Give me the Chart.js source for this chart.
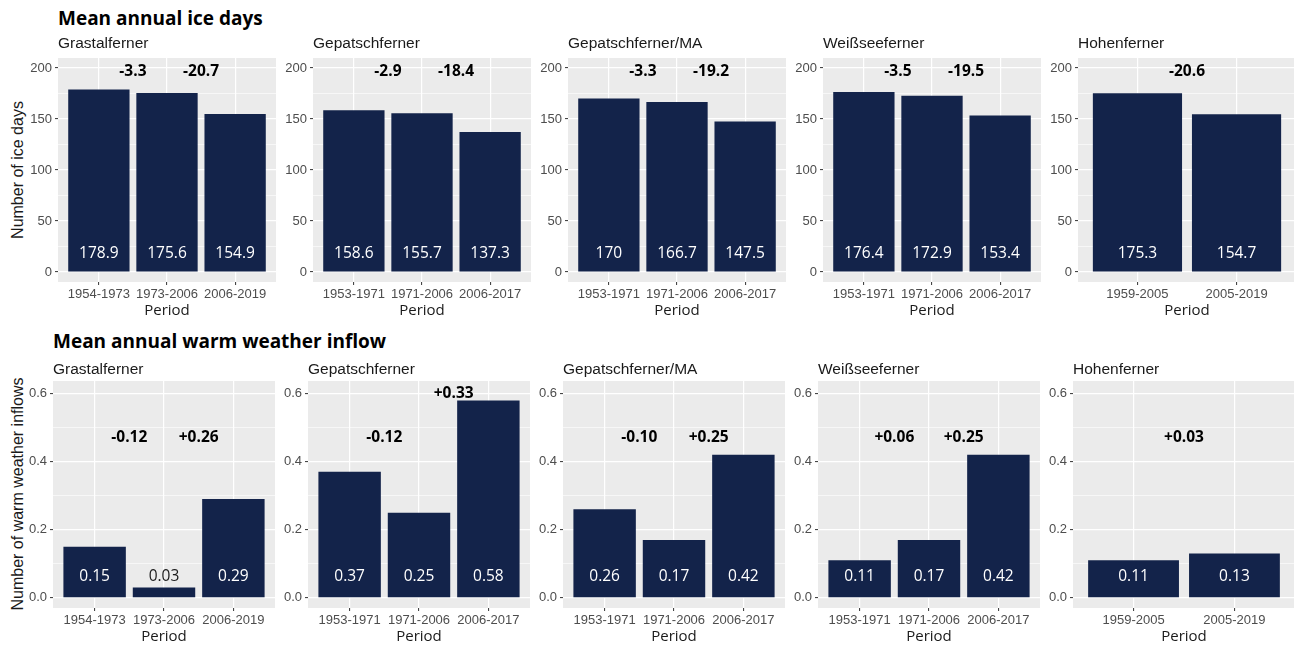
<!DOCTYPE html>
<html>
<head>
<meta charset="utf-8">
<script src="https://cdn.jsdelivr.net/npm/chart.js@4/dist/chart.umd.min.js"></script>
<style>
    body { margin: 0; background: #fff; }
    #page { position: relative; width: 1294px; height: 647px; overflow: hidden; background: #fff; }
    canvas { position: absolute; }
    .main-title { position: absolute; font: bold 19px "Open Sans"; line-height: 20px; color: #000; white-space: nowrap; }
    .panel-title { position: absolute; font: 15.5px "Liberation Sans"; line-height: 18px; color: #1a1a1a; white-space: nowrap; }
    .y-title { position: absolute; font: 16px "Liberation Sans"; line-height: 18px; color: #1a1a1a; white-space: nowrap;
               transform: translate(-50%, -50%) rotate(-90deg); }
</style>
</head>
<body>
<div id="page"></div>
<script>
// Glaciers (one panel per glacier, same order in both rows)
const glaciers = ['Grastalferner', 'Gepatschferner', 'Gepatschferner/MA', 'Weißseeferner', 'Hohenferner'];

// Periods on the x axis of each panel
const periods = [
    ['1954-1973', '1973-2006', '2006-2019'],
    ['1953-1971', '1971-2006', '2006-2017'],
    ['1953-1971', '1971-2006', '2006-2017'],
    ['1953-1971', '1971-2006', '2006-2017'],
    ['1959-2005', '2005-2019']
];

// Mean annual ice days
const iceDays = [
    [178.9, 175.6, 154.9],
    [158.6, 155.7, 137.3],
    [170, 166.7, 147.5],
    [176.4, 172.9, 153.4],
    [175.3, 154.7]
];
const iceChanges = [['-3.3', '-20.7'], ['-2.9', '-18.4'], ['-3.3', '-19.2'], ['-3.5', '-19.5'], ['-20.6']];

// Mean annual warm weather inflow
const warmInflows = [
    [0.15, 0.03, 0.29],
    [0.37, 0.25, 0.58],
    [0.26, 0.17, 0.42],
    [0.11, 0.17, 0.42],
    [0.11, 0.13]
];
const warmChanges = [['-0.12', '+0.26'], ['-0.12', '+0.33'], ['-0.10', '+0.25'], ['+0.06', '+0.25'], ['+0.03']];

// Major y ticks
const iceTicks = [0, 50, 100, 150, 200];
const warmTicks = [0, 0.2, 0.4, 0.6];

const BAR_COLOR = '#13234A';
const PANEL_BG = '#EBEBEB';
const AXIS_W = 50;    // room left of the plot for tick labels
const PAD_TOP = 12;
const X_AXIS_H = 38;  // tick labels + "Period"

const rows = [
    {
        title: 'Mean annual ice days', yTitle: 'Number of ice days',
        values: iceDays, changes: iceChanges, ticks: iceTicks,
        format: v => String(v),
        yMin: -9.8, yMax: 209.8,
        top: 58, height: 224, width: 218, lefts: [58, 313, 568, 823, 1078],
        labelAt: 18, changeAt: 196, changePad: 10,
        titleTop: 7.6, panelTitleTop: 34, yTitleCenter: 170
    },
    {
        title: 'Mean annual warm weather inflow', yTitle: 'Number of warm weather inflows',
        values: warmInflows, changes: warmChanges, ticks: warmTicks,
        format: v => v.toFixed(1),
        yMin: -0.03, yMax: 0.637,
        top: 381, height: 227, width: 222, lefts: [53, 308, 563, 818, 1073],
        labelAt: 0.062, changeAt: 0.47, changePad: 0.02,
        titleTop: 331, panelTitleTop: 360, yTitleCenter: 494
    }
];

// grey panel background + value labels + change labels
const panelDecor = {
    id: 'panelDecor',
    beforeDraw(chart) {
        const a = chart.chartArea;
        const ctx = chart.ctx;
        ctx.save();
        ctx.fillStyle = PANEL_BG;
        ctx.fillRect(a.left, a.top, a.right - a.left, a.bottom - a.top);
        ctx.restore();
    },
    afterDatasetsDraw(chart, args, opts) {
        const ctx = chart.ctx;
        const xs = chart.scales.x;
        const ys = chart.scales.y;
        const vals = opts.values;
        ctx.save();
        ctx.textAlign = 'center';
        ctx.textBaseline = 'middle';

        // values inside the bars
        ctx.font = '15.5px "Open Sans"';
        const labelY = ys.getPixelForValue(opts.labelAt);
        vals.forEach((v, i) => {
            const barTop = ys.getPixelForValue(v);
            ctx.fillStyle = barTop < labelY - 9 ? '#ffffff' : '#1a1a1a';
            ctx.fillText(String(v), xs.getPixelForValue(i + 1), labelY);
        });

        // change between consecutive periods
        ctx.font = 'bold 15.5px "Open Sans"';
        ctx.fillStyle = '#000';
        opts.changes.forEach((txt, i) => {
            const yv = Math.max(opts.changeAt, Math.max(vals[i], vals[i + 1]) + opts.changePad);
            ctx.fillText(txt, xs.getPixelForValue(i + 1.5), ys.getPixelForValue(yv));
        });
        ctx.restore();
    }
};

function addText(cls, text, left, top) {
    const d = document.createElement('div');
    d.className = cls;
    d.textContent = text;
    d.style.left = left + 'px';
    d.style.top = top + 'px';
    document.getElementById('page').appendChild(d);
}

function makePanel(row, g) {
    const labels = periods[g];
    const vals = row.values[g];
    const n = labels.length;

    // major ticks with a minor one halfway between each pair
    const allTicks = [];
    row.ticks.forEach((t, i) => {
        allTicks.push(t);
        if (i < row.ticks.length - 1) allTicks.push((t + row.ticks[i + 1]) / 2);
    });

    const canvas = document.createElement('canvas');
    const plotLeft = row.lefts[g];
    canvas.width = AXIS_W + row.width;
    canvas.height = PAD_TOP + row.height + X_AXIS_H;
    canvas.style.left = (plotLeft - AXIS_W) + 'px';
    canvas.style.top = (row.top - PAD_TOP) + 'px';
    document.getElementById('page').appendChild(canvas);

    addText('panel-title', glaciers[g], plotLeft, row.panelTitleTop);

    new Chart(canvas.getContext('2d'), {
        type: 'bar',
        data: {
            datasets: [{
                data: vals.map((v, i) => ({ x: i + 1, y: v })),
                backgroundColor: BAR_COLOR,
                borderWidth: 0,
                barPercentage: 0.9,
                categoryPercentage: 1
            }]
        },
        options: {
            responsive: false,
            animation: false,
            layout: { padding: { top: PAD_TOP, left: 0, right: 0, bottom: 0 } },
            plugins: {
                legend: { display: false },
                tooltip: { enabled: false },
                panelDecor: { values: vals, changes: row.changes[g], labelAt: row.labelAt, changeAt: row.changeAt, changePad: row.changePad }
            },
            scales: {
                x: {
                    type: 'linear',
                    min: 0.4,
                    max: n + 0.6,
                    offset: false,
                    afterBuildTicks: s => { s.ticks = labels.map((_, i) => ({ value: i + 1 })); },
                    afterFit: s => { s.height = X_AXIS_H; },
                    ticks: {
                        callback: v => labels[Math.round(v) - 1],
                        color: '#4D4D4D',
                        font: { family: 'Liberation Sans', size: 13 },
                        padding: 2,
                        maxRotation: 0,
                        autoSkip: false
                    },
                    grid: { color: '#ffffff', lineWidth: 1.2, tickLength: 3, tickColor: '#333333', tickWidth: 1, offset: false },
                    border: { display: false },
                    title: {
                        display: true,
                        text: 'Period',
                        color: '#1a1a1a',
                        font: { family: 'Open Sans', size: 15 },
                        padding: { top: 0, bottom: 0 }
                    }
                },
                y: {
                    min: row.yMin,
                    max: row.yMax,
                    afterBuildTicks: s => { s.ticks = allTicks.map(v => ({ value: v })); },
                    afterFit: s => { s.width = AXIS_W; },
                    ticks: {
                        callback: (v, i) => (i % 2 === 0 ? row.format(v) : ''),
                        color: '#4D4D4D',
                        font: { family: 'Liberation Sans', size: 13 },
                        padding: 3,
                        autoSkip: false
                    },
                    grid: {
                        color: '#ffffff',
                        lineWidth: c => (c.index % 2 === 0 ? 1.2 : 0.6),
                        tickLength: 3,
                        tickColor: c => (c.index % 2 === 0 ? '#333333' : 'rgba(0,0,0,0)'),
                        tickWidth: 1
                    },
                    border: { display: false }
                }
            }
        },
        plugins: [panelDecor]
    });
}

rows.forEach(row => {
    addText('main-title', row.title, row.lefts[0], row.titleTop);
    const yt = document.createElement('div');
    yt.className = 'y-title';
    yt.textContent = row.yTitle;
    yt.style.left = '17.5px';
    yt.style.top = row.yTitleCenter + 'px';
    document.getElementById('page').appendChild(yt);
    glaciers.forEach((_, g) => makePanel(row, g));
});
</script>
</body>
</html>
